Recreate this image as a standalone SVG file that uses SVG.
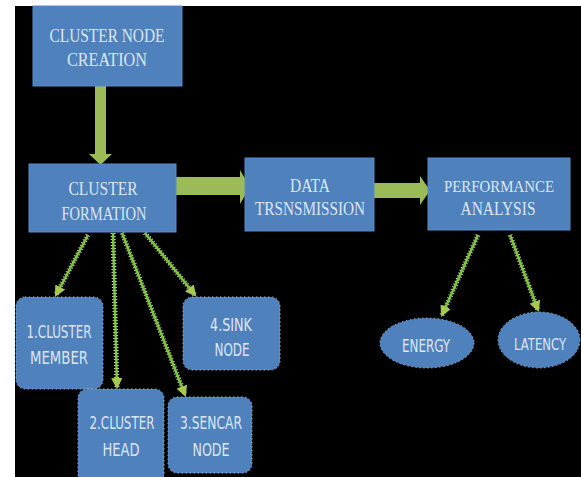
<svg xmlns="http://www.w3.org/2000/svg" width="581" height="477" viewBox="0 0 581 477">
<defs>
<style>
.box{fill:#4f81bd;stroke:#5b8cc6;stroke-width:1}
.rbox{fill:#4f81bd;stroke:#8fb0d6;stroke-width:1;stroke-dasharray:1.5 2.5}
.ser{font-family:"Liberation Serif",serif;font-size:19px;fill:#dde7f3;text-anchor:middle}
.san{font-family:"DejaVu Sans Condensed","Liberation Sans",sans-serif;font-size:18px;fill:#dde7f3;text-anchor:middle}
.thick{fill:#9bbb59}
.thinb{stroke:#c9d6b0;stroke-width:5;stroke-dasharray:1 2;fill:none}
.thin{stroke:#7cc43a;stroke-width:2.5;fill:none;marker-end:url(#ah)}
</style>
<marker id="ah" viewBox="0 0 10 10" refX="8" refY="5" markerWidth="4.5" markerHeight="4.5" orient="auto">
<path d="M0,0 L10,5 L0,10 z" fill="#a8c94f"/>
</marker>
</defs>
<rect x="0" y="0" width="581" height="477" fill="#ffffff"/>
<rect x="15" y="6" width="566" height="471" fill="#000000"/>

<g id="connectors">
<polygon class="thick" points="95,86 106,86 106,154 112,154 100.5,165 89,154 95,154"/>
<polygon class="thick" points="176,177 240,177 240,170 250,187 240,204 240,195 176,195"/>
<polygon class="thick" points="374,183 420,183 420,176 430,190.5 420,205 420,198 374,198"/>
<line class="thinb" x1="88" y1="235" x2="56" y2="295"/>
<line class="thin" x1="88" y1="235" x2="56" y2="295"/>
<line class="thinb" x1="113" y1="233" x2="117" y2="387"/>
<line class="thin" x1="113" y1="233" x2="117" y2="387"/>
<line class="thinb" x1="122" y1="233" x2="185" y2="395"/>
<line class="thin" x1="122" y1="233" x2="185" y2="395"/>
<line class="thinb" x1="145" y1="233" x2="195" y2="295"/>
<line class="thin" x1="145" y1="233" x2="195" y2="295"/>
<line class="thinb" x1="478" y1="235" x2="442" y2="315"/>
<line class="thin" x1="478" y1="235" x2="442" y2="315"/>
<line class="thinb" x1="510" y1="235" x2="538" y2="310"/>
<line class="thin" x1="510" y1="235" x2="538" y2="310"/>
</g>

<g id="cluster-node-creation">
<rect class="box" x="33" y="6" width="149" height="80"/>
<text class="ser" x="107" y="42" textLength="115" lengthAdjust="spacingAndGlyphs">CLUSTER NODE</text>
<text class="ser" x="107" y="66" textLength="80" lengthAdjust="spacingAndGlyphs">CREATION</text>
</g>

<g id="cluster-formation">
<rect class="box" x="29" y="164" width="147" height="68"/>
<text class="ser" x="103" y="195" textLength="69" lengthAdjust="spacingAndGlyphs">CLUSTER</text>
<text class="ser" x="104" y="220" textLength="85" lengthAdjust="spacingAndGlyphs">FORMATION</text>
</g>

<g id="data-transmission">
<rect class="box" x="245" y="158" width="129" height="73"/>
<text class="ser" x="310" y="192" textLength="40" lengthAdjust="spacingAndGlyphs">DATA</text>
<text class="ser" x="310" y="215" textLength="110" lengthAdjust="spacingAndGlyphs">TRSNSMISSION</text>
</g>

<g id="performance-analysis">
<rect class="box" x="428" y="158" width="142" height="72"/>
<text class="ser" x="499" y="192" style="font-size:17px" textLength="110" lengthAdjust="spacingAndGlyphs">PERFORMANCE</text>
<text class="ser" x="498" y="215" textLength="75" lengthAdjust="spacingAndGlyphs">ANALYSIS</text>
</g>

<g id="cluster-member">
<rect class="rbox" x="16" y="297" width="87" height="92" rx="9"/>
<text class="san" x="59" y="338" textLength="65" lengthAdjust="spacingAndGlyphs">1.CLUSTER</text>
<text class="san" x="59" y="364" textLength="58" lengthAdjust="spacingAndGlyphs">MEMBER</text>
</g>

<g id="sink-node">
<rect class="rbox" x="183" y="297" width="97" height="73" rx="9"/>
<text class="san" x="231" y="331" textLength="42" lengthAdjust="spacingAndGlyphs">4.SINK</text>
<text class="san" x="232" y="356" textLength="35" lengthAdjust="spacingAndGlyphs">NODE</text>
</g>

<g id="cluster-head">
<rect class="rbox" x="78" y="389" width="86" height="94" rx="9"/>
<text class="san" x="122" y="429" textLength="65" lengthAdjust="spacingAndGlyphs">2.CLUSTER</text>
<text class="san" x="121" y="456" textLength="37" lengthAdjust="spacingAndGlyphs">HEAD</text>
</g>

<g id="sencar-node">
<rect class="rbox" x="168" y="397" width="84" height="76" rx="9"/>
<text class="san" x="211" y="429" textLength="62" lengthAdjust="spacingAndGlyphs">3.SENCAR</text>
<text class="san" x="211" y="456" textLength="37" lengthAdjust="spacingAndGlyphs">NODE</text>
</g>

<g id="energy">
<ellipse class="rbox" cx="427" cy="343" rx="47" ry="25"/>
<text class="san" x="426" y="352" textLength="48" lengthAdjust="spacingAndGlyphs">ENERGY</text>
</g>

<g id="latency">
<ellipse class="rbox" cx="539" cy="340" rx="41" ry="28"/>
<text class="san" x="540" y="350" style="font-size:15px" textLength="52" lengthAdjust="spacingAndGlyphs">LATENCY</text>
</g>
</svg>
